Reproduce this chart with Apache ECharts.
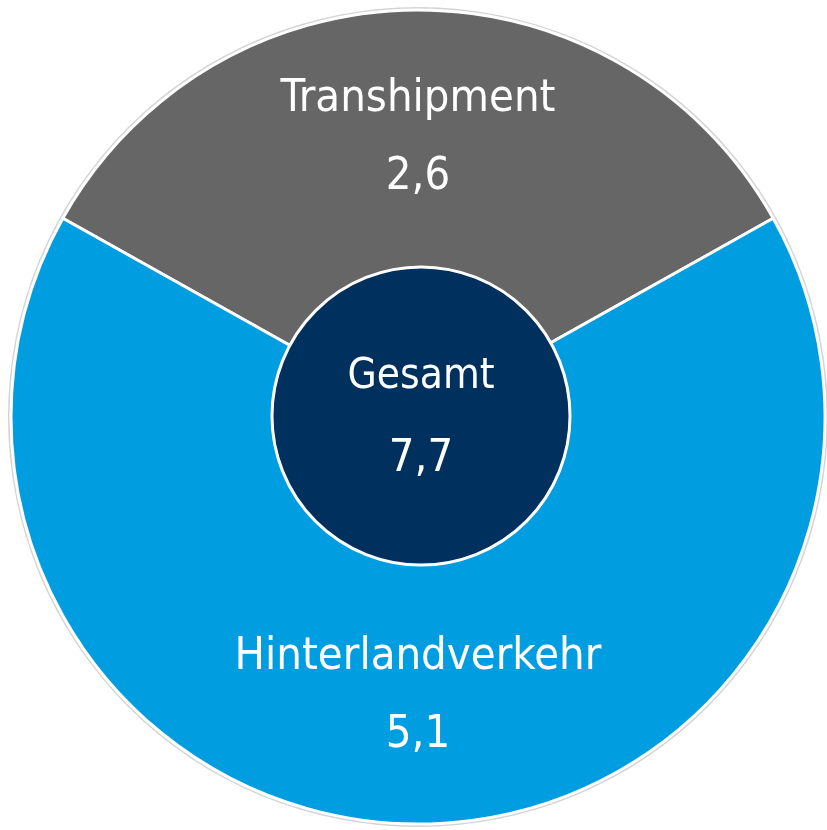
<!DOCTYPE html>
<html>
<head>
<meta charset="utf-8">
<script src="https://cdn.jsdelivr.net/npm/echarts@6/dist/echarts.min.js"></script>
<style>
  html, body { margin: 0; padding: 0; background: #fff; }
  #chart { width: 827px; height: 830px; }
</style>
</head>
<body>
<div id="chart"></div>
<script>
const categories = ['Transhipment', 'Hinterlandverkehr']
const values = [2.6, 5.1]
const colors = ['#666666', '#009ee0']
const totalLabel = 'Gesamt'
const totalValue = 7.7

const font = "'Liberation Sans Narrow', 'Arial Narrow', 'DejaVu Sans Condensed', sans-serif"
const fmt = (v) => v.toFixed(1).replace('.', ',')

const chart = echarts.init(document.getElementById('chart'))

// gray slice centred on top
const startAngle = 90 + (values[0] / (values[0] + values[1])) * 180
const center = [418, 417]

chart.setOption({
  animation: false,
  series: [
    {
      // faint outline round the disc
      type: 'pie',
      silent: true,
      center: center,
      radius: [0, 410],
      label: { show: false },
      itemStyle: { color: '#d4d4d4' },
      data: [{ value: 1 }],
      z: 1
    },
    {
      type: 'pie',
      center: center,
      radius: [145, 407],
      startAngle: startAngle,
      clockwise: true,
      itemStyle: { borderColor: '#fff', borderWidth: 3 },
      label: {
        show: true,
        position: 'inside',
        color: '#fff',
        fontFamily: font,
        formatter: (p) => '{n|' + p.name + '}\n{v|' + fmt(p.value) + '}',
        rich: {
          n: { color: '#fff', fontFamily: font, fontSize: 45, lineHeight: 78 },
          v: { color: '#fff', fontFamily: font, fontSize: 45, lineHeight: 78 }
        }
      },
      labelLine: { show: false },
      data: categories.map((c, i) => ({
        name: c,
        value: values[i],
        itemStyle: { color: colors[i] }
      })),
      z: 2
    },
    {
      type: 'pie',
      center: [421, 416],
      radius: [0, 149],
      itemStyle: { color: '#00305e', borderColor: '#fff', borderWidth: 3 },
      label: {
        show: true,
        position: 'center',
        color: '#fff',
        fontFamily: font,
        formatter: (p) => '{n|' + p.name + '}\n{v|' + fmt(p.value) + '}',
        rich: {
          n: { color: '#fff', fontFamily: font, fontSize: 42, lineHeight: 86, padding: [8, 0, 0, 0] },
          v: { color: '#fff', fontFamily: font, fontSize: 45, lineHeight: 86 }
        }
      },
      labelLine: { show: false },
      data: [{ name: totalLabel, value: totalValue }],
      z: 3
    }
  ]
})
</script>
</body>
</html>
